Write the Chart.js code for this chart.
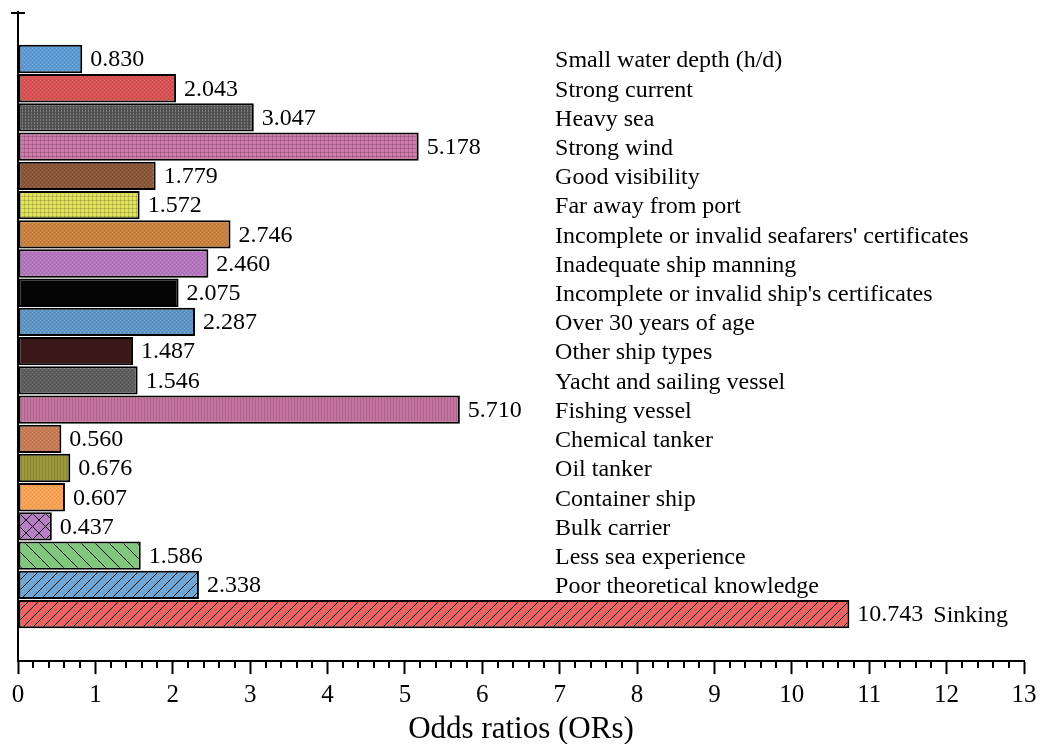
<!DOCTYPE html>
<html>
<head>
<meta charset="utf-8">
<title>Odds ratios</title>
<script src="https://cdn.jsdelivr.net/npm/chart.js@4.4.1/dist/chart.umd.min.js"></script>
<style>
  html, body { margin: 0; padding: 0; background: #fff; }
  #wrap { width: 1040px; height: 744px; }
</style>
</head>
<body>
<div id="wrap"><canvas id="orChart" width="1040" height="744"></canvas></div>
<script>
// Factors, top to bottom
const categories = [
    'Small water depth (h/d)',
    'Strong current',
    'Heavy sea',
    'Strong wind',
    'Good visibility',
    'Far away from port',
    "Incomplete or invalid seafarers' certificates",
    'Inadequate ship manning',
    "Incomplete or invalid ship's certificates",
    'Over 30 years of age',
    'Other ship types',
    'Yacht and sailing vessel',
    'Fishing vessel',
    'Chemical tanker',
    'Oil tanker',
    'Container ship',
    'Bulk carrier',
    'Less sea experience',
    'Poor theoretical knowledge',
    'Sinking'
];

const oddsRatios = [0.830, 2.043, 3.047, 5.178, 1.779, 1.572, 2.746, 2.460, 2.075, 2.287,
                    1.487, 1.546, 5.710, 0.560, 0.676, 0.607, 0.437, 1.586, 2.338, 10.743];

// bar fill colours and texture type
const barColors = ['#5b9bd5', '#d95050', '#505050', '#d27aad', '#8a5536', '#e3e35a', '#c98039',
                   '#b474be', '#050505', '#5d95c6', '#3a1818', '#5c5c5c', '#c5749f', '#c87b52',
                   '#9c9a3c', '#f9a24f', '#b77fc4', '#80c77d', '#6ea6d6', '#eb6464'];
const barTextures = ['fine', 'fine', 'vdots', 'grid', 'fine', 'grid', 'fine', 'fine', 'plain', 'fine',
                     'plain', 'fine', 'vline', 'fine', 'vline', 'fine', 'cross', 'back', 'slash', 'slash'];

const FONT = "'Liberation Serif', 'Times New Roman', serif";

function makePattern(base, kind) {
    const sizes = { fine: 4, grid: 4, vdots: 3, vline: 3, plain: 4, cross: 13, back: 14, slash: 10 };
    const s = sizes[kind];
    const c = document.createElement('canvas');
    c.width = s; c.height = s;
    const g = c.getContext('2d');
    g.fillStyle = base;
    g.fillRect(0, 0, s, s);
    if (kind === 'fine') {
        g.fillStyle = 'rgba(255,255,255,0.14)';
        g.fillRect(0, 0, 1, 1); g.fillRect(2, 2, 1, 1);
        g.fillStyle = 'rgba(0,0,0,0.08)';
        g.fillRect(2, 0, 1, 1); g.fillRect(0, 2, 1, 1);
    } else if (kind === 'grid') {
        g.fillStyle = 'rgba(0,0,0,0.16)';
        g.fillRect(0, 0, s, 1); g.fillRect(0, 0, 1, s);
    } else if (kind === 'vdots') {
        g.fillStyle = 'rgba(255,255,255,0.28)';
        g.fillRect(1, 0, 1, 1); g.fillRect(1, 2, 1, 1);
    } else if (kind === 'vline') {
        g.fillStyle = 'rgba(0,0,0,0.12)';
        g.fillRect(0, 0, 1, s);
    } else if (kind !== 'plain') {
        g.strokeStyle = '#111';
        g.lineWidth = 1;
        g.beginPath();
        for (let k = -1; k <= 1; k++) {
            if (kind === 'slash' || kind === 'cross') {
                g.moveTo(k * s, s); g.lineTo(k * s + s, 0);
            }
            if (kind === 'back' || kind === 'cross') {
                g.moveTo(k * s, 0); g.lineTo(k * s + s, s);
            }
        }
        g.stroke();
    }
    return g.createPattern(c, 'repeat');
}

const ctx = document.getElementById('orChart').getContext('2d');
const fills = barColors.map((col, i) => makePattern(col, barTextures[i]));

// value where the factor names start (right-hand column)
const nameColumnValue = 6.94;

const decorPlugin = {
    id: 'decor',
    afterDraw(chart) {
        const c = chart.ctx;
        const xs = chart.scales.x;
        const area = chart.chartArea;
        c.save();
        c.strokeStyle = '#000';
        c.lineWidth = 2;
        // cap on top of the y axis
        c.beginPath();
        c.moveTo(area.left - 7, area.top + 1);
        c.lineTo(area.left + 7, area.top + 1);
        c.stroke();
        // minor ticks every 0.2
        c.beginPath();
        for (let i = 1; i < 65; i++) {
            if (i % 5 === 0) continue;
            const px = Math.round(xs.getPixelForValue(i / 5));
            c.moveTo(px, area.bottom);
            c.lineTo(px, area.bottom + 7);
        }
        c.stroke();

        // value labels and factor names
        const meta = chart.getDatasetMeta(0);
        c.fillStyle = '#000';
        c.textBaseline = 'middle';
        c.textAlign = 'left';
        const colX = xs.getPixelForValue(nameColumnValue);
        c.font = '24px ' + FONT;
        meta.data.forEach((bar, i) => {
            const y = bar.y + 1;
            const txt = oddsRatios[i].toFixed(3);
            const vx = bar.x + 8;
            c.fillText(txt, vx, y);
            const end = vx + c.measureText(txt).width;
            const nx = Math.max(colX, end + 10);
            c.fillText(categories[i], nx, y + 1);
        });
        c.restore();
    }
};

new Chart(ctx, {
    type: 'bar',
    data: {
        datasets: [{
            data: oddsRatios.map((v, i) => ({ x: v, y: i })),
            backgroundColor: fills,
            borderColor: '#000',
            borderWidth: 2,
            borderSkipped: false,
            barPercentage: 0.97,
            categoryPercentage: 1.0
        }]
    },
    options: {
        indexAxis: 'y',
        responsive: false,
        animation: false,
        layout: { padding: { left: 10, right: 16, top: 12, bottom: 0 } },
        plugins: {
            legend: { display: false },
            tooltip: { enabled: false }
        },
        scales: {
            x: {
                type: 'linear',
                min: 0,
                max: 13,
                afterFit(scale) {
                    scale.paddingRight = 16;
                },
                ticks: {
                    stepSize: 1,
                    color: '#000',
                    padding: 6,
                    font: { family: FONT, size: 25 }
                },
                grid: {
                    drawOnChartArea: false,
                    drawTicks: true,
                    tickLength: 13,
                    tickColor: '#000',
                    tickWidth: 2
                },
                border: { color: '#000', width: 2 },
                title: {
                    display: true,
                    text: 'Odds ratios (ORs)',
                    color: '#000',
                    font: { family: FONT, size: 31, lineHeight: 0.9 },
                    padding: { top: 0, bottom: 0 }
                }
            },
            y: {
                type: 'linear',
                reverse: true,
                offset: false,
                min: -1.61,
                max: 20.61,
                ticks: { display: false, stepSize: 100 },
                grid: { display: false, offset: false },
                border: { color: '#000', width: 2 }
            }
        }
    },
    plugins: [decorPlugin]
});
</script>
</body>
</html>
